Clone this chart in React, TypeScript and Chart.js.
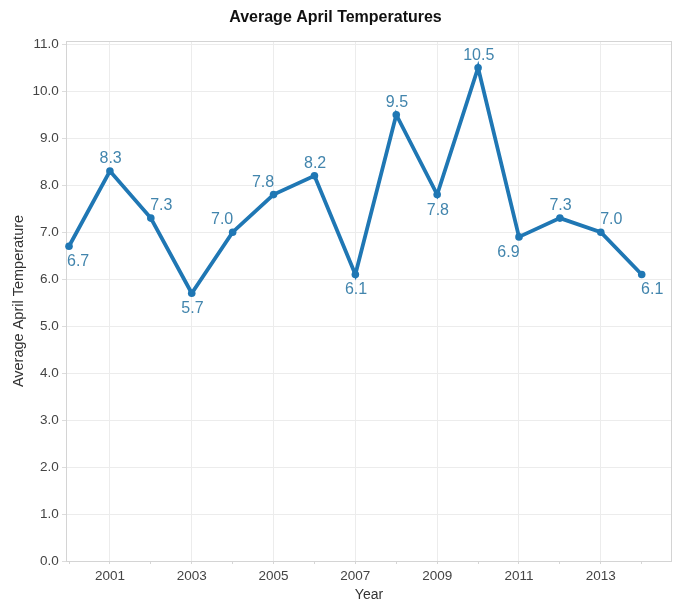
import React, { useEffect, useRef } from "react";
import { Chart, registerables } from "chart.js";

Chart.register(...registerables);

const years = [2000, 2001, 2002, 2003, 2004, 2005, 2006, 2007, 2008, 2009, 2010, 2011, 2012, 2013, 2014];
const temperatures = [6.7, 8.3, 7.3, 5.7, 7.0, 7.8, 8.2, 6.1, 9.5, 7.8, 10.5, 6.9, 7.3, 7.0, 6.1];
const labeledYears = [2001, 2003, 2005, 2007, 2009, 2011, 2013];
const yTickValues = [0, 1, 2, 3, 4, 5, 6, 7, 8, 9, 10, 11];

const FONT = '"Liberation Sans", Arial, sans-serif';
const LINE_COLOR = "#1f77b4";
const LABEL_COLOR = "#4285ad";
const GRID_COLOR = "#ececec";
const BORDER_COLOR = "#d4d4d4";

const SIDE = 10.5;

const pointLabelPlugin = {
  id: "pointLabels",
  afterDatasetsDraw(chart: any) {
    const meta = chart.getDatasetMeta(0);
    const ctx = chart.ctx;
    const { left, right } = chart.chartArea;
    ctx.save();
    ctx.font = `16px ${FONT}`;
    ctx.fillStyle = LABEL_COLOR;
    ctx.textAlign = "center";
    ctx.textBaseline = "middle";
    meta.data.forEach((pt: any, i: number) => {
      const v = temperatures[i];
      const prev = temperatures[i - 1];
      const next = temperatures[i + 1];
      const hasPrev = prev !== undefined;
      const hasNext = next !== undefined;
      const isPeak = (!hasPrev || v >= prev) && (!hasNext || v >= next);
      const isValley = (!hasPrev || v <= prev) && (!hasNext || v <= next);
      let dx = 0.7;
      let dy = -12.5;
      if (isValley) {
        dy = 15.5;
        if (!hasPrev) dx = -SIDE;
        else if (!hasNext) dx = SIDE;
        else {
          const dl = prev - v;
          const dr = next - v;
          if (dl > 4 * dr) dx = -SIDE;
          else if (dr > 4 * dl) dx = SIDE;
        }
      } else if (isPeak) {
        dy = -12.5;
      } else if (prev < v && v < next) {
        dx = -SIDE;
      } else {
        dx = SIDE;
      }
      const text = v.toFixed(1);
      const w = ctx.measureText(text).width;
      let x = pt.x + dx;
      x = Math.max(left + w / 2, Math.min(right - w / 2, x));
      ctx.fillText(text, x, pt.y + dy);
    });
    ctx.restore();
  },
};

const framePlugin = {
  id: "plotFrame",
  beforeDatasetsDraw(chart: any) {
    const { left, top, right, bottom } = chart.chartArea;
    const ctx = chart.ctx;
    ctx.save();
    ctx.strokeStyle = BORDER_COLOR;
    ctx.lineWidth = 1;
    const l = Math.floor(left) - 0.5;
    const t = Math.floor(top) + 0.5;
    const r = Math.floor(right) + 0.5;
    const b = Math.floor(bottom) + 0.5;
    ctx.strokeRect(l, t, r - l, b - t);
    ctx.restore();
  },
};

export default function App() {
  const canvasRef = useRef<HTMLCanvasElement | null>(null);

  useEffect(() => {
    if (!canvasRef.current) return;
    Chart.defaults.font.family = FONT;
    const chart = new Chart(canvasRef.current, {
      type: "line",
      data: {
        datasets: [
          {
            label: "Average April Temperature",
            data: years.map((yr, i) => ({ x: yr, y: temperatures[i] })),
            borderColor: LINE_COLOR,
            backgroundColor: LINE_COLOR,
            borderWidth: 3.8,
            pointRadius: 3.8,
            pointHoverRadius: 3.8,
            pointBorderWidth: 0,
            pointBackgroundColor: LINE_COLOR,
            tension: 0,
            clip: false as any,
          },
        ],
      },
      options: {
        animation: false,
        responsive: true,
        maintainAspectRatio: false,
        layout: { padding: { left: 0, right: 10, top: 0, bottom: 0 } },
        plugins: {
          legend: { display: false },
          tooltip: { enabled: false },
          title: {
            display: true,
            text: "Average April Temperatures",
            color: "#111",
            font: { size: 16, weight: "bold", family: FONT, lineHeight: 1.2 },
            padding: { top: 8, bottom: 13.8 },
          },
        },
        scales: {
          x: {
            type: "linear",
            min: 1999.951,
            max: 2014.716,
            afterBuildTicks: (scale: any) => {
              scale.ticks = years.map((v) => ({ value: v }));
            },
            afterFit: (scale: any) => {
              scale.height = 47;
            },
            ticks: {
              autoSkip: false,
              maxRotation: 0,
              padding: 4,
              color: "#444",
              font: { size: 13.5, family: FONT },
              callback: (v: any) => (labeledYears.includes(Number(v)) ? String(v) : ""),
            },
            grid: {
              color: (c: any) => (labeledYears.includes(c.tick?.value) ? GRID_COLOR : "rgba(0,0,0,0)"),
              tickColor: "#d6d6d6",
              tickLength: 3,
              lineWidth: 1,
            },
            border: { display: false },
            title: {
              display: true,
              text: "Year",
              color: "#333",
              font: { size: 14, family: FONT, lineHeight: 1.2 },
              padding: { top: 0, bottom: 4.4 },
            },
          },
          y: {
            type: "linear",
            min: 0,
            max: 11.07,
            afterBuildTicks: (scale: any) => {
              scale.ticks = yTickValues.map((v) => ({ value: v }));
            },
            afterFit: (scale: any) => {
              scale.width = 67;
            },
            ticks: {
              padding: 3.3,
              color: "#444",
              font: { size: 13.5, family: FONT },
              callback: (v: any) => Number(v).toFixed(1),
            },
            grid: {
              color: GRID_COLOR,
              tickColor: "#dcdcdc",
              tickLength: 5,
              lineWidth: 1,
            },
            border: { display: false },
            title: {
              display: true,
              text: "Average April Temperature",
              color: "#333",
              font: { size: 14.5, family: FONT, lineHeight: 1.2 },
              padding: { top: 10.5, bottom: 0 },
            },
          },
        },
      },
      plugins: [framePlugin, pointLabelPlugin],
    } as any);
    return () => chart.destroy();
  }, []);

  return (
    <div style={{ position: "fixed", left: 0, top: 0, width: 681, height: 608, background: "#fff" }}>
      <canvas ref={canvasRef} />
    </div>
  );
}
